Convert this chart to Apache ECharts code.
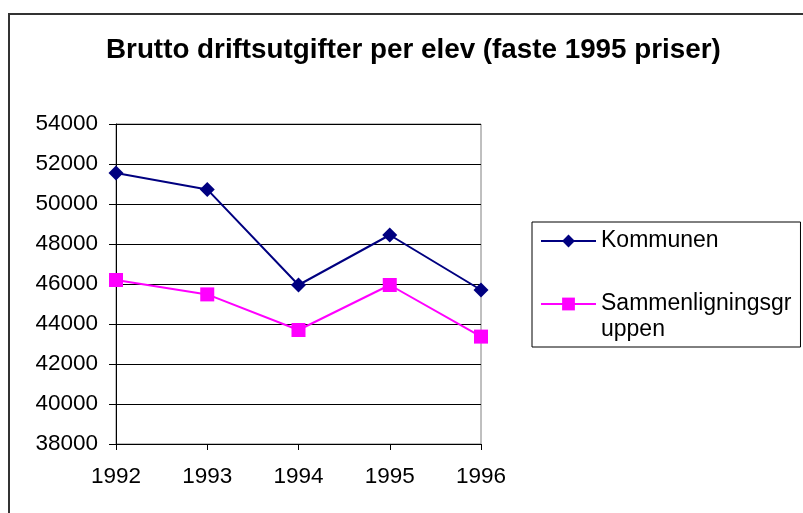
<!DOCTYPE html>
<html>
<head>
<meta charset="utf-8">
<script src="https://cdn.jsdelivr.net/npm/echarts@6/dist/echarts.min.js"></script>
<style>
html,body{margin:0;padding:0;background:#fff;}
#chart{width:803px;height:513px;}
</style>
</head>
<body>
<div id="chart"></div>
<script>
var years = ['1992', '1993', '1994', '1995', '1996'];
var kommunen = [51550, 50730, 45950, 48450, 45700];
var sammenligning = [46200, 45480, 43700, 45950, 43370];
var seriesNames = ['Kommunen', 'Sammenligningsgruppen'];
var titleText = 'Brutto driftsutgifter per elev (faste 1995 priser)';

var chart = echarts.init(document.getElementById('chart'), null, {renderer: 'canvas'});
var font = 'Liberation Sans, Arial, sans-serif';
chart.setOption({
  animation: false,
  backgroundColor: '#fff',
  textStyle: {fontFamily: font},
  title: {
    text: titleText,
    left: 101, top: 31,
    textStyle: {fontSize: 27.8, fontWeight: 'bold', color: '#000', fontFamily: font}
  },
  graphic: [{
    type: 'rect', silent: true,
    shape: {x: 9, y: 14, width: 800, height: 520},
    style: {fill: 'none', stroke: '#333', lineWidth: 2}
  }],
  grid: {left: 116, top: 124, right: 322, bottom: 69, show: true, borderColor: '#808080', borderWidth: 1, backgroundColor: 'transparent'},
  legend: {
    orient: 'vertical',
    left: 532, top: 222,
    padding: [6, 9, 4, 8],
    borderColor: '#000', borderWidth: 1,
    itemWidth: 55, itemHeight: 16, itemGap: 11,
    textStyle: {
      fontSize: 23, lineHeight: 26, color: '#000', fontFamily: font,
      rich: {
        a: {fontSize: 23, lineHeight: 26, color: '#000', fontFamily: font},
        e: {fontSize: 23, lineHeight: 26, color: '#000', fontFamily: font}
      }
    },
    data: [{name: seriesNames[0]}, {name: seriesNames[1]}],
    formatter: function (n) {
      return n === seriesNames[1] ? '{e| }\n{a|Sammenligningsgr}\n{a|uppen}' : '{a|' + n + '}';
    }
  },
  xAxis: {
    type: 'category',
    data: years,
    boundaryGap: false,
    axisLine: {lineStyle: {color: '#000', width: 1}},
    axisTick: {show: true, inside: false, length: 6, lineStyle: {color: '#000'}},
    axisLabel: {fontSize: 22.5, color: '#000', margin: 21, fontFamily: font},
    splitLine: {show: false}
  },
  yAxis: {
    type: 'value',
    min: 38000, max: 54000, interval: 2000,
    axisLine: {show: true, lineStyle: {color: '#000', width: 1}},
    axisTick: {show: true, inside: false, length: 7, lineStyle: {color: '#000'}},
    axisLabel: {fontSize: 22.5, color: '#000', margin: 18, fontFamily: font, formatter: function (v) { return String(v); }},
    splitLine: {show: true, lineStyle: {color: '#000', width: 1}}
  },
  series: [
    {
      name: seriesNames[0], type: 'line', data: kommunen,
      symbol: 'diamond', symbolSize: 15, showAllSymbol: true,
      lineStyle: {color: '#000080', width: 2},
      itemStyle: {color: '#000080'}
    },
    {
      name: seriesNames[1], type: 'line', data: sammenligning,
      symbol: 'rect', symbolSize: 14, showAllSymbol: true,
      lineStyle: {color: '#FF00FF', width: 2},
      itemStyle: {color: '#FF00FF'}
    }
  ]
});
</script>
</body>
</html>
